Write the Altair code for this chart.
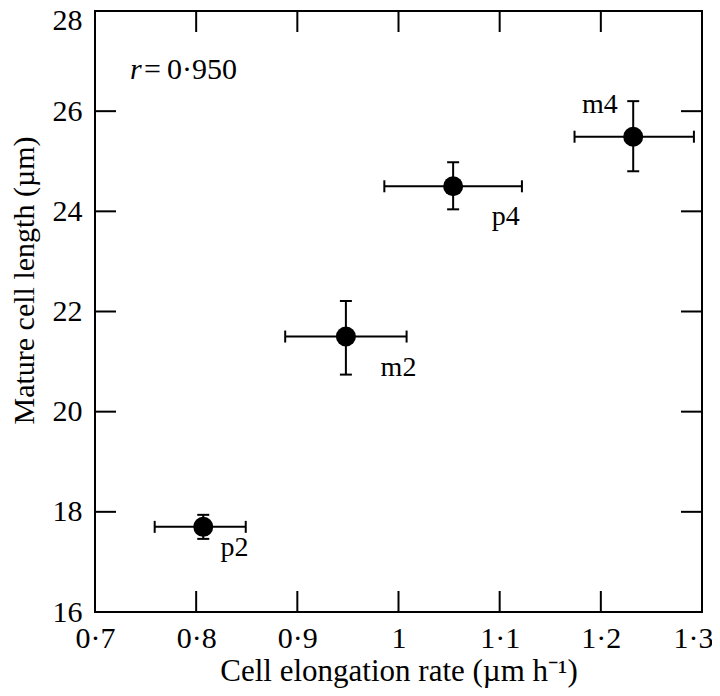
import altair as alt
import pandas as pd

# ---- data ----
labels = ["p2", "m2", "p4", "m4"]
rate = [0.807, 0.948, 1.054, 1.232]
rate_lo = [0.759, 0.888, 0.986, 1.174]
rate_hi = [0.849, 1.008, 1.122, 1.292]
length = [17.70, 21.50, 24.50, 25.49]
length_lo = [17.46, 20.74, 24.04, 24.80]
length_hi = [17.94, 22.21, 24.98, 26.20]
label_x = [0.838, 1.000, 1.106, 1.199]
label_y = [17.28, 20.87, 23.88, 26.12]

x_ticks = [0.7, 0.8, 0.9, 1.0, 1.1, 1.2, 1.3]
y_ticks = [16, 18, 20, 22, 24, 26, 28]
x_inner = [0.8, 0.9, 1.0, 1.1, 1.2]
y_inner = [18, 20, 22, 24, 26]

r_text_x = [0.7347]
r_text_y = [26.82]

W, H = 607, 601
FONT = "Liberation Serif"
TL = 21  # inward tick length

df = pd.DataFrame({
    "label": labels, "rate": rate, "rate_lo": rate_lo, "rate_hi": rate_hi,
    "length": length, "length_lo": length_lo, "length_hi": length_hi,
    "lx": label_x, "ly": label_y,
})
xt = pd.DataFrame({"v": x_inner})
yt = pd.DataFrame({"v": y_inner})
rdf = pd.DataFrame({"x": r_text_x, "y": r_text_y})

xscale = alt.Scale(domain=[0.7, 1.3], nice=False, zero=False)
yscale = alt.Scale(domain=[16, 28], nice=False, zero=False)

x_axis = alt.Axis(
    values=x_ticks, ticks=False, tickSize=0, domain=False, grid=False,
    labelExpr="abs(datum.value - 1) < 1e-6 ? '1' : replace(format(datum.value, '.1f'), '.', '·')",
    labelFont=FONT, labelFontSize=30, labelColor="black", labelPadding=11,
    labelFlush=False,
    labelOffset={"condition": {"test": "datum.value > 1.25", "value": -9}, "value": 0},
    title="Cell elongation rate (µm h⁻¹)", titleFont=FONT, titleFontSize=31,
    titleFontWeight="normal", titleColor="black", titleY=68,
    titleBaseline="alphabetic",
)
y_axis = alt.Axis(
    values=y_ticks, ticks=False, tickSize=0, domain=False, grid=False,
    labelFont=FONT, labelFontSize=30, labelColor="black", labelPadding=13,
    labelFlush=False,
    labelOffset={"condition": {"test": "datum.value > 27", "value": 9}, "value": 0},
    title="Mature cell length (µm)", titleFont=FONT, titleFontSize=30,
    titleFontWeight="normal", titleColor="black", titleX=-62, titleY=269,
    titleAngle=-90, titleBaseline="alphabetic", titleAlign="center",
)

base = alt.Chart(df)

axes_layer = base.mark_point(opacity=0).encode(
    x=alt.X("rate:Q", scale=xscale, axis=x_axis),
    y=alt.Y("length:Q", scale=yscale, axis=y_axis),
)

hbar = base.mark_rule(color="black", strokeWidth=2).encode(
    x="rate_lo:Q", x2="rate_hi:Q", y="length:Q")
vbar = base.mark_rule(color="black", strokeWidth=2).encode(
    x="rate:Q", y="length_lo:Q", y2="length_hi:Q")

cap_l = base.mark_rule(color="black", strokeWidth=2, yOffset=-6, y2Offset=6).encode(
    x="rate_lo:Q", x2="rate_lo:Q", y="length:Q", y2="length:Q")
cap_r = base.mark_rule(color="black", strokeWidth=2, yOffset=-6, y2Offset=6).encode(
    x="rate_hi:Q", x2="rate_hi:Q", y="length:Q", y2="length:Q")
cap_b = base.mark_rule(color="black", strokeWidth=2, xOffset=-6, x2Offset=6).encode(
    x="rate:Q", x2="rate:Q", y="length_lo:Q", y2="length_lo:Q")
cap_t = base.mark_rule(color="black", strokeWidth=2, xOffset=-6, x2Offset=6).encode(
    x="rate:Q", x2="rate:Q", y="length_hi:Q", y2="length_hi:Q")

dots = base.mark_circle(color="black", opacity=1, size=400).encode(
    x="rate:Q", y="length:Q")

texts = base.mark_text(font=FONT, fontSize=28, color="black",
                       align="center", baseline="middle").encode(
    x="lx:Q", y="ly:Q", text="label:N")

tb = alt.Chart(xt).mark_rule(color="black", strokeWidth=2).encode(
    x="v:Q", y=alt.value(H), y2=alt.value(H - TL))
tt = alt.Chart(xt).mark_rule(color="black", strokeWidth=2).encode(
    x="v:Q", y=alt.value(0), y2=alt.value(TL))
tl = alt.Chart(yt).mark_rule(color="black", strokeWidth=2).encode(
    y="v:Q", x=alt.value(0), x2=alt.value(TL))
tr = alt.Chart(yt).mark_rule(color="black", strokeWidth=2).encode(
    y="v:Q", x=alt.value(W), x2=alt.value(W - TL))

r_italic = alt.Chart(rdf).mark_text(
    font=FONT, fontSize=30, fontStyle="italic", color="black",
    align="left", baseline="middle").encode(
    x="x:Q", y="y:Q", text=alt.value("r"))
r_rest = alt.Chart(rdf).mark_text(
    font=FONT, fontSize=30, color="black",
    align="left", baseline="middle", dx=14).encode(
    x="x:Q", y="y:Q", text=alt.value("=\u20090·950"))

chart = alt.layer(
    axes_layer, hbar, vbar, cap_l, cap_r, cap_b, cap_t, dots, texts,
    tb, tt, tl, tr, r_italic, r_rest,
).properties(
    width=W, height=H,
    autosize=alt.AutoSizeParams(type="none"),
    padding={"left": 87, "top": 3, "right": 10, "bottom": 76},
    background="white",
).configure_view(stroke="black", strokeWidth=2)

chart.save("out.html", embed_options={"renderer": "svg", "actions": False})
